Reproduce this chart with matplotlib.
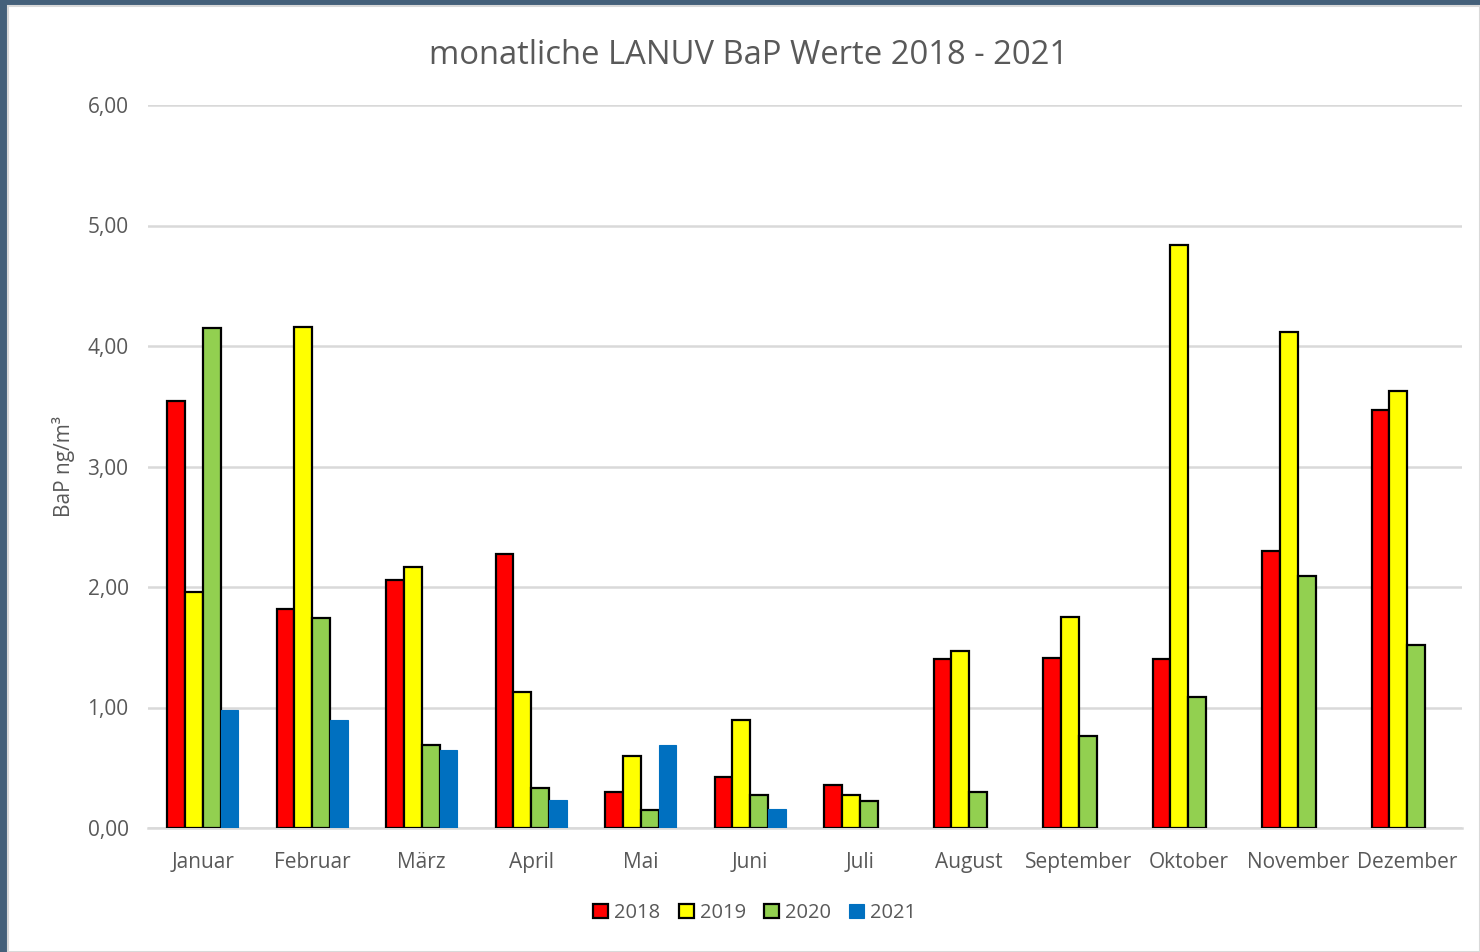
import numpy as np
import matplotlib
matplotlib.use('Agg')
import matplotlib.pyplot as plt
from matplotlib.patches import Rectangle

plt.rcParams['font.family'] = ['Open Sans', 'DejaVu Sans']

# Monthly BaP values (ng/m3)
months = ['Januar', 'Februar', 'März', 'April', 'Mai', 'Juni', 'Juli',
          'August', 'September', 'Oktober', 'November', 'Dezember']
bap_2018 = [3.54, 1.82, 2.06, 2.27, 0.30, 0.42, 0.36, 1.40, 1.41, 1.40, 2.30, 3.47]
bap_2019 = [1.96, 4.16, 2.17, 1.13, 0.60, 0.90, 0.27, 1.47, 1.75, 4.84, 4.12, 3.63]
bap_2020 = [4.15, 1.74, 0.69, 0.33, 0.15, 0.27, 0.22, 0.30, 0.76, 1.09, 2.09, 1.52]
bap_2021 = [0.98, 0.90, 0.65, 0.23, 0.69, 0.16]
years = ['2018', '2019', '2020', '2021']

series = [bap_2018, bap_2019, bap_2020, bap_2021]
colors = ['#ff0000', '#ffff00', '#92d050', '#0070c0']
edges = ['black', 'black', 'black', '#0070c0']
text_col = '#595959'

fig = plt.figure(figsize=(14.8, 9.52), dpi=100)
fig.patch.set_facecolor('#44607a')
# white chart area inside the dark frame
fig.patches.append(Rectangle((8 / 1480, 0), 1 - 8 / 1480, 1 - 6 / 952,
                             transform=fig.transFigure, facecolor='white',
                             edgecolor='#d9d9d9', linewidth=1.5, zorder=-5))

ax = fig.add_axes([148 / 1480, 1 - 828 / 952, (1462 - 148) / 1480, (828 - 105) / 952])
ax.set_zorder(2)
ax.set_facecolor('white')

x = np.arange(len(months))
w = 0.1625
for i, (vals, c, ec, lab) in enumerate(zip(series, colors, edges, years)):
    xi = x[:len(vals)] + (i - 1.5) * w
    ax.bar(xi, vals, width=w, color=c, edgecolor=ec,
           linewidth=1.6 if ec == 'black' else 0.8, label=lab, zorder=3)

ax.set_xlim(-0.5, len(months) - 0.5)
ax.set_ylim(0, 6)
ax.set_yticks(np.arange(0, 6.01, 1))
ax.set_yticklabels([f'{v:.2f}'.replace('.', ',') for v in np.arange(0, 6.01, 1)])
ax.set_xticks(x)
ax.set_xticklabels(months)
ax.grid(axis='y', color='#d9d9d9', linewidth=1.8, zorder=0)
ax.set_axisbelow(True)
for s in ['top', 'right', 'left']:
    ax.spines[s].set_visible(False)
ax.spines['bottom'].set_color('#d9d9d9')
ax.spines['bottom'].set_linewidth(1.8)
ax.tick_params(axis='both', length=0, colors=text_col, labelsize=15)
ax.tick_params(axis='x', pad=17)
ax.tick_params(axis='y', pad=14)

ax.set_ylabel('BaP ng/m³', color=text_col, fontsize=15, labelpad=9)

fig.text(0.506, 1 - 55 / 952, 'monatliche LANUV BaP Werte 2018 - 2021',
         ha='center', va='center', color=text_col, fontsize=23.6)

leg = fig.legend(loc='center', bbox_to_anchor=(0.51, 1 - 913 / 952), ncol=4,
                 frameon=False, fontsize=14.5, handlelength=0.75, handleheight=0.75,
                 handletextpad=0.3, columnspacing=0.9, labelcolor=text_col)

plt.savefig('out.png', dpi=100, facecolor=fig.get_facecolor())
